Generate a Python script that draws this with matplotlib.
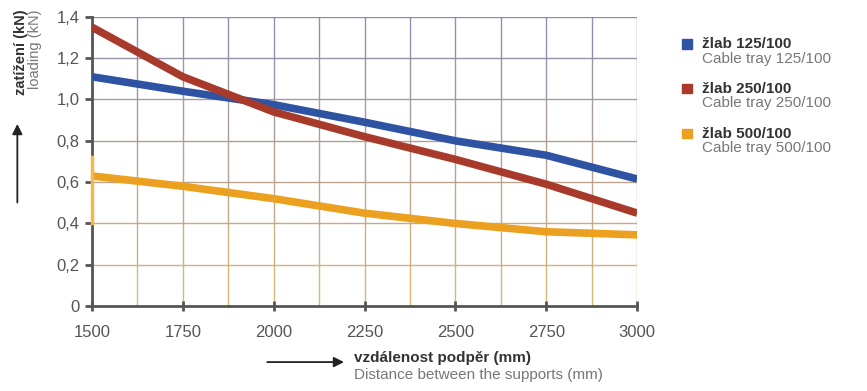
import matplotlib.pyplot as plt
import numpy as np

# ===========================
# Data
# ===========================
distance = [1500, 1750, 2000, 2250, 2500, 2750, 3000]
load_125 = [1.11, 1.04, 0.975, 0.89, 0.80, 0.73, 0.615]
load_250 = [1.35, 1.11, 0.94, 0.82, 0.71, 0.59, 0.45]
load_500 = [0.63, 0.58, 0.52, 0.45, 0.40, 0.36, 0.345]

x_ticks = [1500, 1750, 2000, 2250, 2500, 2750, 3000]
y_ticks = [0, 0.2, 0.4, 0.6, 0.8, 1.0, 1.2, 1.4]
y_tick_labels = ["0", "0,2", "0,4", "0,6", "0,8", "1,0", "1,2", "1,4"]

names_cz = ["žlab 125/100", "žlab 250/100", "žlab 500/100"]
names_en = ["Cable tray 125/100", "Cable tray 250/100", "Cable tray 500/100"]
colors = ["#2f53a3", "#a83a2c", "#eba11f"]

plt.rcParams['font.family'] = ['Liberation Sans', 'DejaVu Sans']

fig = plt.figure(figsize=(8.67, 3.91), dpi=100)
ax = fig.add_axes([0.106, 0.217, 0.629, 0.74])

# ===========================
# grid: bluish at top, tan at bottom
# ===========================
top_col = np.array([0.55, 0.55, 0.70])
bot_col = np.array([0.88, 0.72, 0.45])
grid_x = np.arange(1500, 3001, 125)
grid_y = np.arange(0, 1.41, 0.2)
for i in range(len(grid_y) - 1):
    t = (grid_y[i] + 0.1) / 1.4
    c = bot_col * (1 - t) + top_col * t
    for gx in grid_x[1:]:
        ax.plot([gx, gx], [grid_y[i], grid_y[i + 1]], color=c, lw=1.0, zorder=1)
for gy in grid_y[1:]:
    t = gy / 1.4
    c = bot_col * (1 - t) + top_col * t
    ax.plot([1500, 3000], [gy, gy], color=c, lw=1.0, zorder=1)

# faint orange trace on the left axis
ax.plot([1500, 1500], [0.4, 0.72], color='#f2b84a', lw=2.5, zorder=5, clip_on=False)

# ===========================
# lines
# ===========================
for vals, col in zip([load_125, load_250, load_500], colors):
    ax.plot(distance, vals, color=col, lw=5.5, solid_capstyle='butt', zorder=3)

ax.set_xlim(1500, 3000)
ax.set_ylim(0, 1.4)
ax.set_xticks(x_ticks)
ax.set_yticks(y_ticks)
ax.set_yticklabels(y_tick_labels)
for s in ['top', 'right']:
    ax.spines[s].set_visible(False)
for s in ['left', 'bottom']:
    ax.spines[s].set_color('#555555')
    ax.spines[s].set_linewidth(2)
ax.tick_params(axis='y', direction='out', length=5, width=2, color='#555555',
               labelsize=12, labelcolor='#555555', pad=4)
ax.tick_params(axis='x', direction='inout', length=7, width=2, color='#555555',
               labelsize=12, labelcolor='#555555', pad=10)

# ===========================
# axis labels with arrows
# ===========================
fig.text(0.024, 0.975, "zatížení (kN)", rotation=90, fontsize=10.5, fontweight='bold',
         color='#333333', ha='center', va='top')
fig.text(0.040, 0.975, "loading (kN)", rotation=90, fontsize=10.5,
         color='#777777', ha='center', va='top')
fig.add_artist(plt.matplotlib.patches.FancyArrowPatch(
    (0.020, 0.475), (0.020, 0.69), transform=fig.transFigure,
    arrowstyle='-|>,head_length=6,head_width=3', color='#222222', lw=1.3))

fig.add_artist(plt.matplotlib.patches.FancyArrowPatch(
    (0.305, 0.074), (0.400, 0.074), transform=fig.transFigure,
    arrowstyle='-|>,head_length=6,head_width=3', color='#222222', lw=1.3))
fig.text(0.408, 0.085, "vzdálenost podpěr (mm)", fontsize=11, fontweight='bold',
         color='#333333', va='center')
fig.text(0.408, 0.040, "Distance between the supports (mm)", fontsize=11,
         color='#777777', va='center')

# ===========================
# legend
# ===========================
leg_y = [0.887, 0.773, 0.658]
for ly, col, cz, en in zip(leg_y, colors, names_cz, names_en):
    fig.patches.append(plt.Rectangle((0.787, ly - 0.012), 0.011, 0.024,
                                     transform=fig.transFigure, color=col))
    fig.text(0.810, ly, cz, fontsize=11, fontweight='bold', color='#333333', va='center')
    fig.text(0.810, ly - 0.037, en, fontsize=11, color='#777777', va='center')

fig.savefig("out.png", dpi=100)
